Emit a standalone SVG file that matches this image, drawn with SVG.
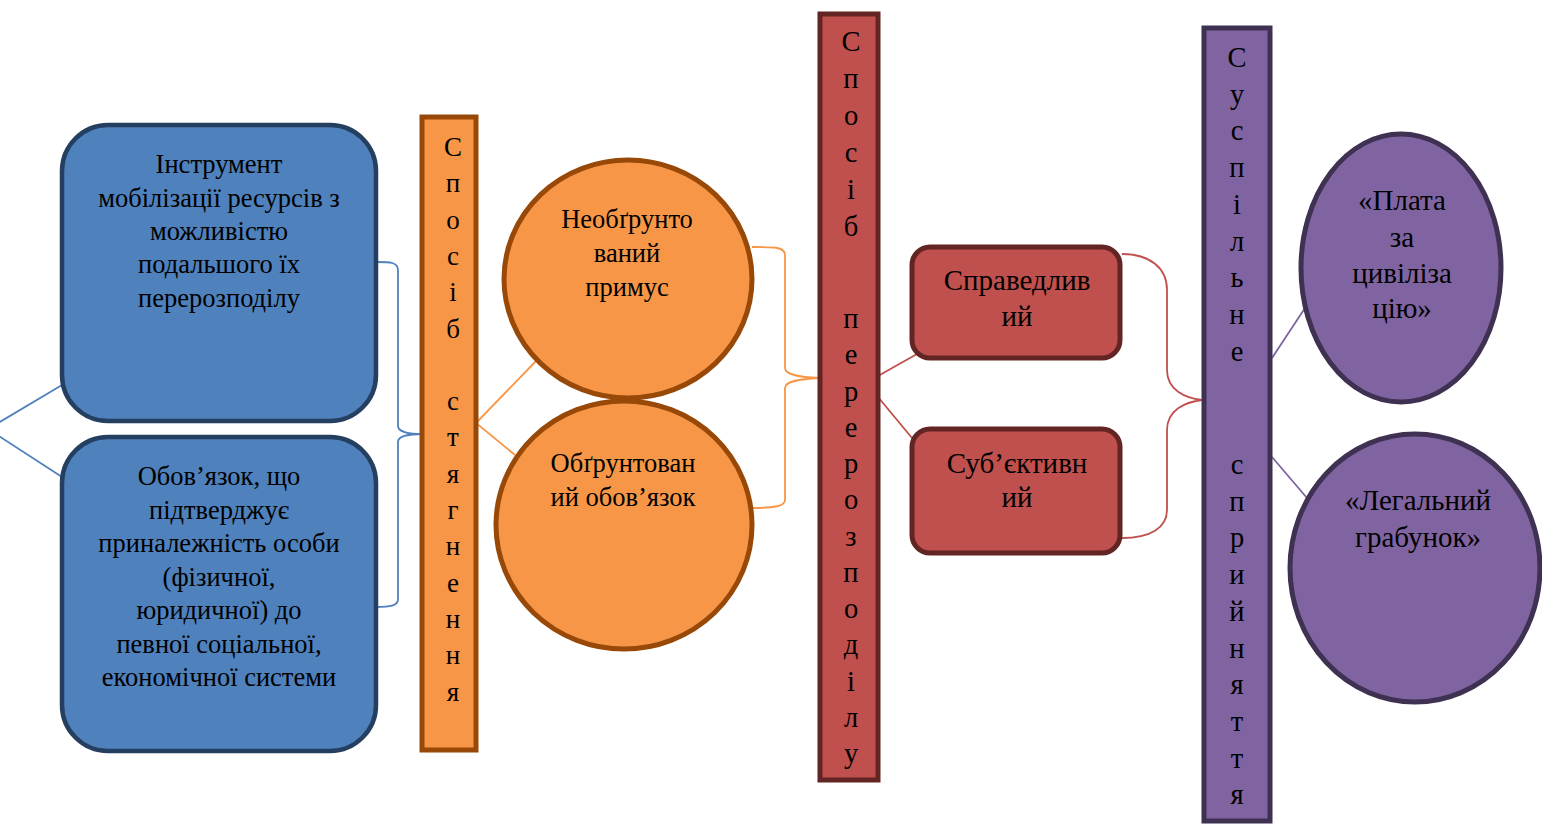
<svg xmlns="http://www.w3.org/2000/svg" width="1542" height="825" viewBox="0 0 1542 825">
<style>
text{font-family:"Liberation Serif","Times New Roman",serif;font-size:26.5px;fill:#000;text-anchor:middle}
.v1 text{font-size:27px}
.v2 text{font-size:28.5px}
.big text{font-size:29px}
.blue{fill:#4F81BD;stroke:#243F60;stroke-width:4.5}
.orange{fill:#F79646;stroke:#984807;stroke-width:5}
.red{fill:#C0504D;stroke:#632523;stroke-width:5}
.purple{fill:#8064A2;stroke:#3F3151;stroke-width:5}
.c-blue{fill:none;stroke:#4F81BD;stroke-width:1.8}
.c-orange{fill:none;stroke:#F79646;stroke-width:1.8}
.c-red{fill:none;stroke:#C0504D;stroke-width:1.8}
.c-purple{fill:none;stroke:#8064A2;stroke-width:1.8}
</style>
<rect width="1542" height="825" fill="#fff"/>
<g id="connectors">
<path class="c-blue" d="M62,385 L-12,429 L62,477"/>
<path class="c-blue" d="M376,262 C390,262 398,262 398,270 L398,426 C398,432 410,434 422,434 C410,434 398,436 398,442 L398,599 C398,606 390,607 376,607"/>
<path class="c-orange" d="M537,360 L476,423 L515,455"/>
<path class="c-orange" d="M752,247 C775,247 785,247 785,255 L785,368 C785,375 800,377 820,378 C800,379 785,381 785,388 L785,500 C785,506 775,508 752,508"/>
<path class="c-red" d="M917,354 L878,376 M878,397 L912,438"/>
<path class="c-red" d="M1122,254 C1150,254 1167,268 1167,290 L1167,370 C1167,390 1185,398 1202,400 C1185,402 1167,410 1167,430 L1167,510 C1167,528 1150,538 1122,538"/>
<path class="c-purple" d="M1272,358 L1305,308 M1272,457 L1307,498"/>
</g>
<g id="node-instrument">
<rect class="blue" x="62" y="125" width="314" height="296" rx="46"/>
<text x="219" y="173">Інструмент</text>
<text x="219" y="207">мобілізації ресурсів з</text>
<text x="219" y="240">можливістю</text>
<text x="219" y="273">подальшого їх</text>
<text x="219" y="307">перерозподілу</text>
</g>
<g id="node-obovyazok">
<rect class="blue" x="62" y="437" width="314" height="314" rx="46"/>
<text x="219" y="485">Обов’язок, що</text>
<text x="219" y="518.5">підтверджує</text>
<text x="219" y="552">приналежність особи</text>
<text x="219" y="585.5">(фізичної,</text>
<text x="219" y="619">юридичної) до</text>
<text x="219" y="652.5">певної соціальної,</text>
<text x="219" y="686">економічної системи</text>
</g>
<g id="node-sposib-styahnennya" class="v1">
<rect class="orange" x="422" y="117" width="54" height="633"/>
<text x="453" y="156">С</text>
<text x="453" y="192.3">п</text>
<text x="453" y="228.6">о</text>
<text x="453" y="264.9">с</text>
<text x="453" y="301.2">і</text>
<text x="453" y="337.5">б</text>
<text x="453" y="410.1">с</text>
<text x="453" y="446.4">т</text>
<text x="453" y="482.7">я</text>
<text x="453" y="519">г</text>
<text x="453" y="555.3">н</text>
<text x="453" y="591.6">е</text>
<text x="453" y="627.9">н</text>
<text x="453" y="664.2">н</text>
<text x="453" y="700.5">я</text>
</g>
<g id="node-neobgruntovanyi">
<ellipse class="orange" cx="628" cy="279" rx="124" ry="119"/>
<text x="627" y="228">Необґрунто</text>
<text x="627" y="262">ваний</text>
<text x="627" y="296">примус</text>
</g>
<g id="node-obgruntovanyi">
<ellipse class="orange" cx="624" cy="525" rx="128" ry="124"/>
<text x="623" y="472">Обґрунтован</text>
<text x="623" y="506">ий обов’язок</text>
</g>
<g id="node-sposib-pererozpodilu" class="v2">
<rect class="red" x="820" y="14" width="58" height="766"/>
<text x="851" y="51">С</text>
<text x="851" y="88">п</text>
<text x="851" y="125">о</text>
<text x="851" y="162">с</text>
<text x="851" y="199">і</text>
<text x="851" y="236">б</text>
<text x="851" y="328">п</text>
<text x="851" y="364.25">е</text>
<text x="851" y="400.5">р</text>
<text x="851" y="436.75">е</text>
<text x="851" y="473">р</text>
<text x="851" y="509.25">о</text>
<text x="851" y="545.5">з</text>
<text x="851" y="581.75">п</text>
<text x="851" y="618">о</text>
<text x="851" y="654.25">д</text>
<text x="851" y="690.5">і</text>
<text x="851" y="726.75">л</text>
<text x="851" y="763">у</text>
</g>
<g id="node-spravedlyvyi" class="big">
<rect class="red" x="912" y="247" width="208" height="111" rx="18"/>
<text x="1017" y="290">Справедлив</text>
<text x="1017" y="326">ий</text>
</g>
<g id="node-subiektyvnyi" class="big">
<rect class="red" x="912" y="429" width="208" height="124" rx="18"/>
<text x="1017" y="473">Суб’єктивн</text>
<text x="1017" y="507">ий</text>
</g>
<g id="node-suspilne-spryiniattia" class="v2">
<rect class="purple" x="1204" y="28" width="66" height="793"/>
<text x="1237" y="67">С</text>
<text x="1237" y="103.7">у</text>
<text x="1237" y="140.4">с</text>
<text x="1237" y="177.1">п</text>
<text x="1237" y="213.8">і</text>
<text x="1237" y="250.5">л</text>
<text x="1237" y="287.2">ь</text>
<text x="1237" y="323.9">н</text>
<text x="1237" y="360.6">е</text>
<text x="1237" y="474">с</text>
<text x="1237" y="510.7">п</text>
<text x="1237" y="547.4">р</text>
<text x="1237" y="584.1">и</text>
<text x="1237" y="620.8">й</text>
<text x="1237" y="657.5">н</text>
<text x="1237" y="694.2">я</text>
<text x="1237" y="730.9">т</text>
<text x="1237" y="767.6">т</text>
<text x="1237" y="804.3">я</text>
</g>
<g id="node-plata" class="big">
<ellipse class="purple" cx="1401" cy="268" rx="100" ry="134"/>
<text x="1402" y="210">«Плата</text>
<text x="1402" y="247">за</text>
<text x="1402" y="283">цивіліза</text>
<text x="1402" y="318">цію»</text>
</g>
<g id="node-grabunok" class="big">
<ellipse class="purple" cx="1415" cy="568" rx="125" ry="134"/>
<text x="1418" y="510">«Легальний</text>
<text x="1418" y="547">грабунок»</text>
</g>
</svg>
